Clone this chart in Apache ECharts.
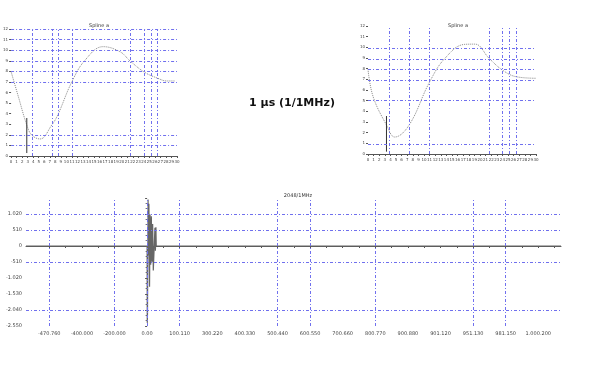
<!DOCTYPE html>
<html>
<head>
<meta charset="utf-8">
<script src="https://cdn.jsdelivr.net/npm/echarts@6/dist/echarts.min.js"></script>
<style>
  html, body { margin: 0; padding: 0; background: #fff; }
  #main { width: 599px; height: 381px; }
</style>
</head>
<body>
<div id="main"></div>
<script>
// top left spline (x in knots units 0..30, y in 0..12)
const leftCurve = [
  [0, 7.97], [1.32, 5.6], [2.84, 2.93], [3.74, 1.98], [5.24, 1.61], [7.36, 2.93],
  [8.44, 3.88], [10.98, 7.0], [13.4, 9.07], [16.64, 10.33], [19.7, 9.85],
  [21.52, 8.98], [24.05, 7.94], [26.4, 7.37], [28.2, 7.09], [29.65, 7.09]
];
const leftMarker = [[2.84, 3.59], [2.84, 0.28]];
const leftGridX = [3.74, 7.36, 8.44, 10.98, 21.57, 24.1, 25.26, 26.46];
const leftGridY = [12, 11, 10, 9, 8, 7, 2, 1];

// top right spline
const rightCurve = [
  [0, 7.94], [0.9, 5.4], [3.3, 2.72], [4.78, 1.59], [7.35, 2.72], [10.93, 6.68],
  [13.74, 8.97], [17.3, 10.28], [19.1, 10.3], [21.63, 8.97], [24.0, 7.87],
  [26.5, 7.24], [30, 7.1]
];
const rightMarker = [[3.3, 3.56], [3.3, 0.22]];
const rightGridX = [3.76, 7.35, 10.93, 21.63, 24.01, 25.2, 26.52];
const rightGridY = [9.9, 8.9, 7.9, 6.9, 5.0, 0.9];

// bottom signal
const xMin = -3.715, xMax = 12.696;
const signal = [
  [xMin, 0], [0, 0], [0.005, -2450], [0.012, -2150], [0.03, 1480], [0.04, -300],
  [0.055, 1350], [0.075, -1300], [0.09, 1000], [0.11, -600], [0.13, 950],
  [0.15, -500], [0.17, 700], [0.19, -780], [0.24, 580], [0.255, -150],
  [0.27, 600], [0.28, 0], [xMax, 0]
];
const bottomTicks = [-3, -2, -1, 0, 1, 2, 3, 4, 5, 6, 7, 8, 9, 10, 11, 12];
const bottomLabels = ['-470.760', '-400.000', '-200.000', '0.00', '100.110', '300.220',
  '400.330', '500.440', '600.550', '700.660', '800.770', '900.880', '901.120',
  '951.130', '981.150', '1.000.200'];
const bottomGridX = [-3, -1, 0, 1, 4, 5, 7, 10, 11];
const bottomGridY = [1020, 510, -510, -2040];

const gridColor = '#7070ee';
const gridLineStyle = { color: gridColor, type: [3, 2, 1, 2], width: 1 };
const font = 'DejaVu Sans';

function gridLines(xs, ys) {
  return {
    silent: true,
    symbol: 'none',
    label: { show: false },
    lineStyle: gridLineStyle,
    data: xs.map(v => ({ xAxis: v })).concat(ys.map(v => ({ yAxis: v })))
  };
}

function topX(idx) {
  return {
    gridIndex: idx, type: 'value', min: 0, max: 30, interval: 1,
    axisLine: { lineStyle: { color: '#555' } },
    axisTick: { length: 2, lineStyle: { color: '#555' } },
    axisLabel: { fontSize: 4, color: '#444', margin: 4, fontFamily: font },
    splitLine: { show: false }
  };
}
function topY(idx) {
  return {
    gridIndex: idx, type: 'value', min: 0, max: 12, interval: 1,
    axisLine: { show: false },
    axisTick: { show: true, length: 2, lineStyle: { color: '#555' } },
    axisLabel: { fontSize: 4, color: '#444', margin: 3, fontFamily: font },
    splitLine: { show: false }
  };
}

const chart = echarts.init(document.getElementById('main'));
chart.setOption({
  animation: false,
  backgroundColor: '#fff',
  title: [
    { text: '1 µs (1/1MHz)', left: 287, top: 93, textAlign: 'center',
      textStyle: { fontSize: 11, fontWeight: 'bold', color: '#111', fontFamily: font } },
    { text: 'Spline a', left: 94, top: 18, textAlign: 'center',
      textStyle: { fontSize: 5, fontWeight: 'normal', color: '#333', fontFamily: font } },
    { text: 'Spline a', left: 453, top: 18, textAlign: 'center',
      textStyle: { fontSize: 5, fontWeight: 'normal', color: '#333', fontFamily: font } },
    { text: '2048/1MHz', left: 293, top: 188, textAlign: 'center',
      textStyle: { fontSize: 5, fontWeight: 'normal', color: '#333', fontFamily: font } }
  ],
  grid: [
    { left: 11, top: 29, width: 166, height: 127 },
    { left: 368, top: 26, width: 168, height: 128 },
    { left: 26, top: 198, width: 535, height: 128 }
  ],
  xAxis: [
    topX(0),
    topX(1),
    {
      gridIndex: 2, type: 'value', min: xMin, max: xMax,
      axisLine: { lineStyle: { color: '#555' } },
      axisTick: { length: 2, customValues: bottomTicks.flatMap(v => [v, v + 0.5]), lineStyle: { color: '#555' } },
      axisLabel: {
        fontSize: 5, color: '#444', margin: 5, fontFamily: font,
        customValues: bottomTicks,
        formatter: v => bottomLabels[bottomTicks.indexOf(Math.round(v))] || ''
      },
      splitLine: { show: false }
    }
  ],
  yAxis: [
    topY(0),
    topY(1),
    {
      gridIndex: 2, type: 'value', min: -2550, max: 1530, interval: 510,
      axisLine: { show: false },
      axisTick: { show: true, length: 2, lineStyle: { color: '#555' } },
      minorTick: { show: true, splitNumber: 3, length: 1.5, lineStyle: { color: '#777' } },
      axisLabel: {
        fontSize: 5, color: '#444', margin: 4, fontFamily: font,
        formatter: v => v === 1530 ? '' : String(v).replace(/(\d)(?=(\d{3})+$)/, '$1.')
      },
      splitLine: { show: false }
    }
  ],
  series: [
    {
      type: 'line', xAxisIndex: 0, yAxisIndex: 0, data: leftCurve, smooth: 0.4,
      showSymbol: false, lineStyle: { color: '#888', width: 1, type: 'dotted' },
      markLine: gridLines(leftGridX, leftGridY)
    },
    {
      type: 'line', xAxisIndex: 0, yAxisIndex: 0, data: leftMarker,
      showSymbol: false, lineStyle: { color: '#333', width: 1 }
    },
    {
      type: 'line', xAxisIndex: 1, yAxisIndex: 1, data: rightCurve, smooth: 0.4,
      showSymbol: false, lineStyle: { color: '#888', width: 1, type: 'dotted' },
      markLine: gridLines(rightGridX, rightGridY)
    },
    {
      type: 'line', xAxisIndex: 1, yAxisIndex: 1, data: rightMarker,
      showSymbol: false, lineStyle: { color: '#333', width: 1 }
    },
    {
      type: 'line', xAxisIndex: 2, yAxisIndex: 2, data: signal,
      showSymbol: false, lineStyle: { color: '#666', width: 1.2 },
      markLine: gridLines(bottomGridX, bottomGridY), z: 3
    }
  ]
});
</script>
</body>
</html>
